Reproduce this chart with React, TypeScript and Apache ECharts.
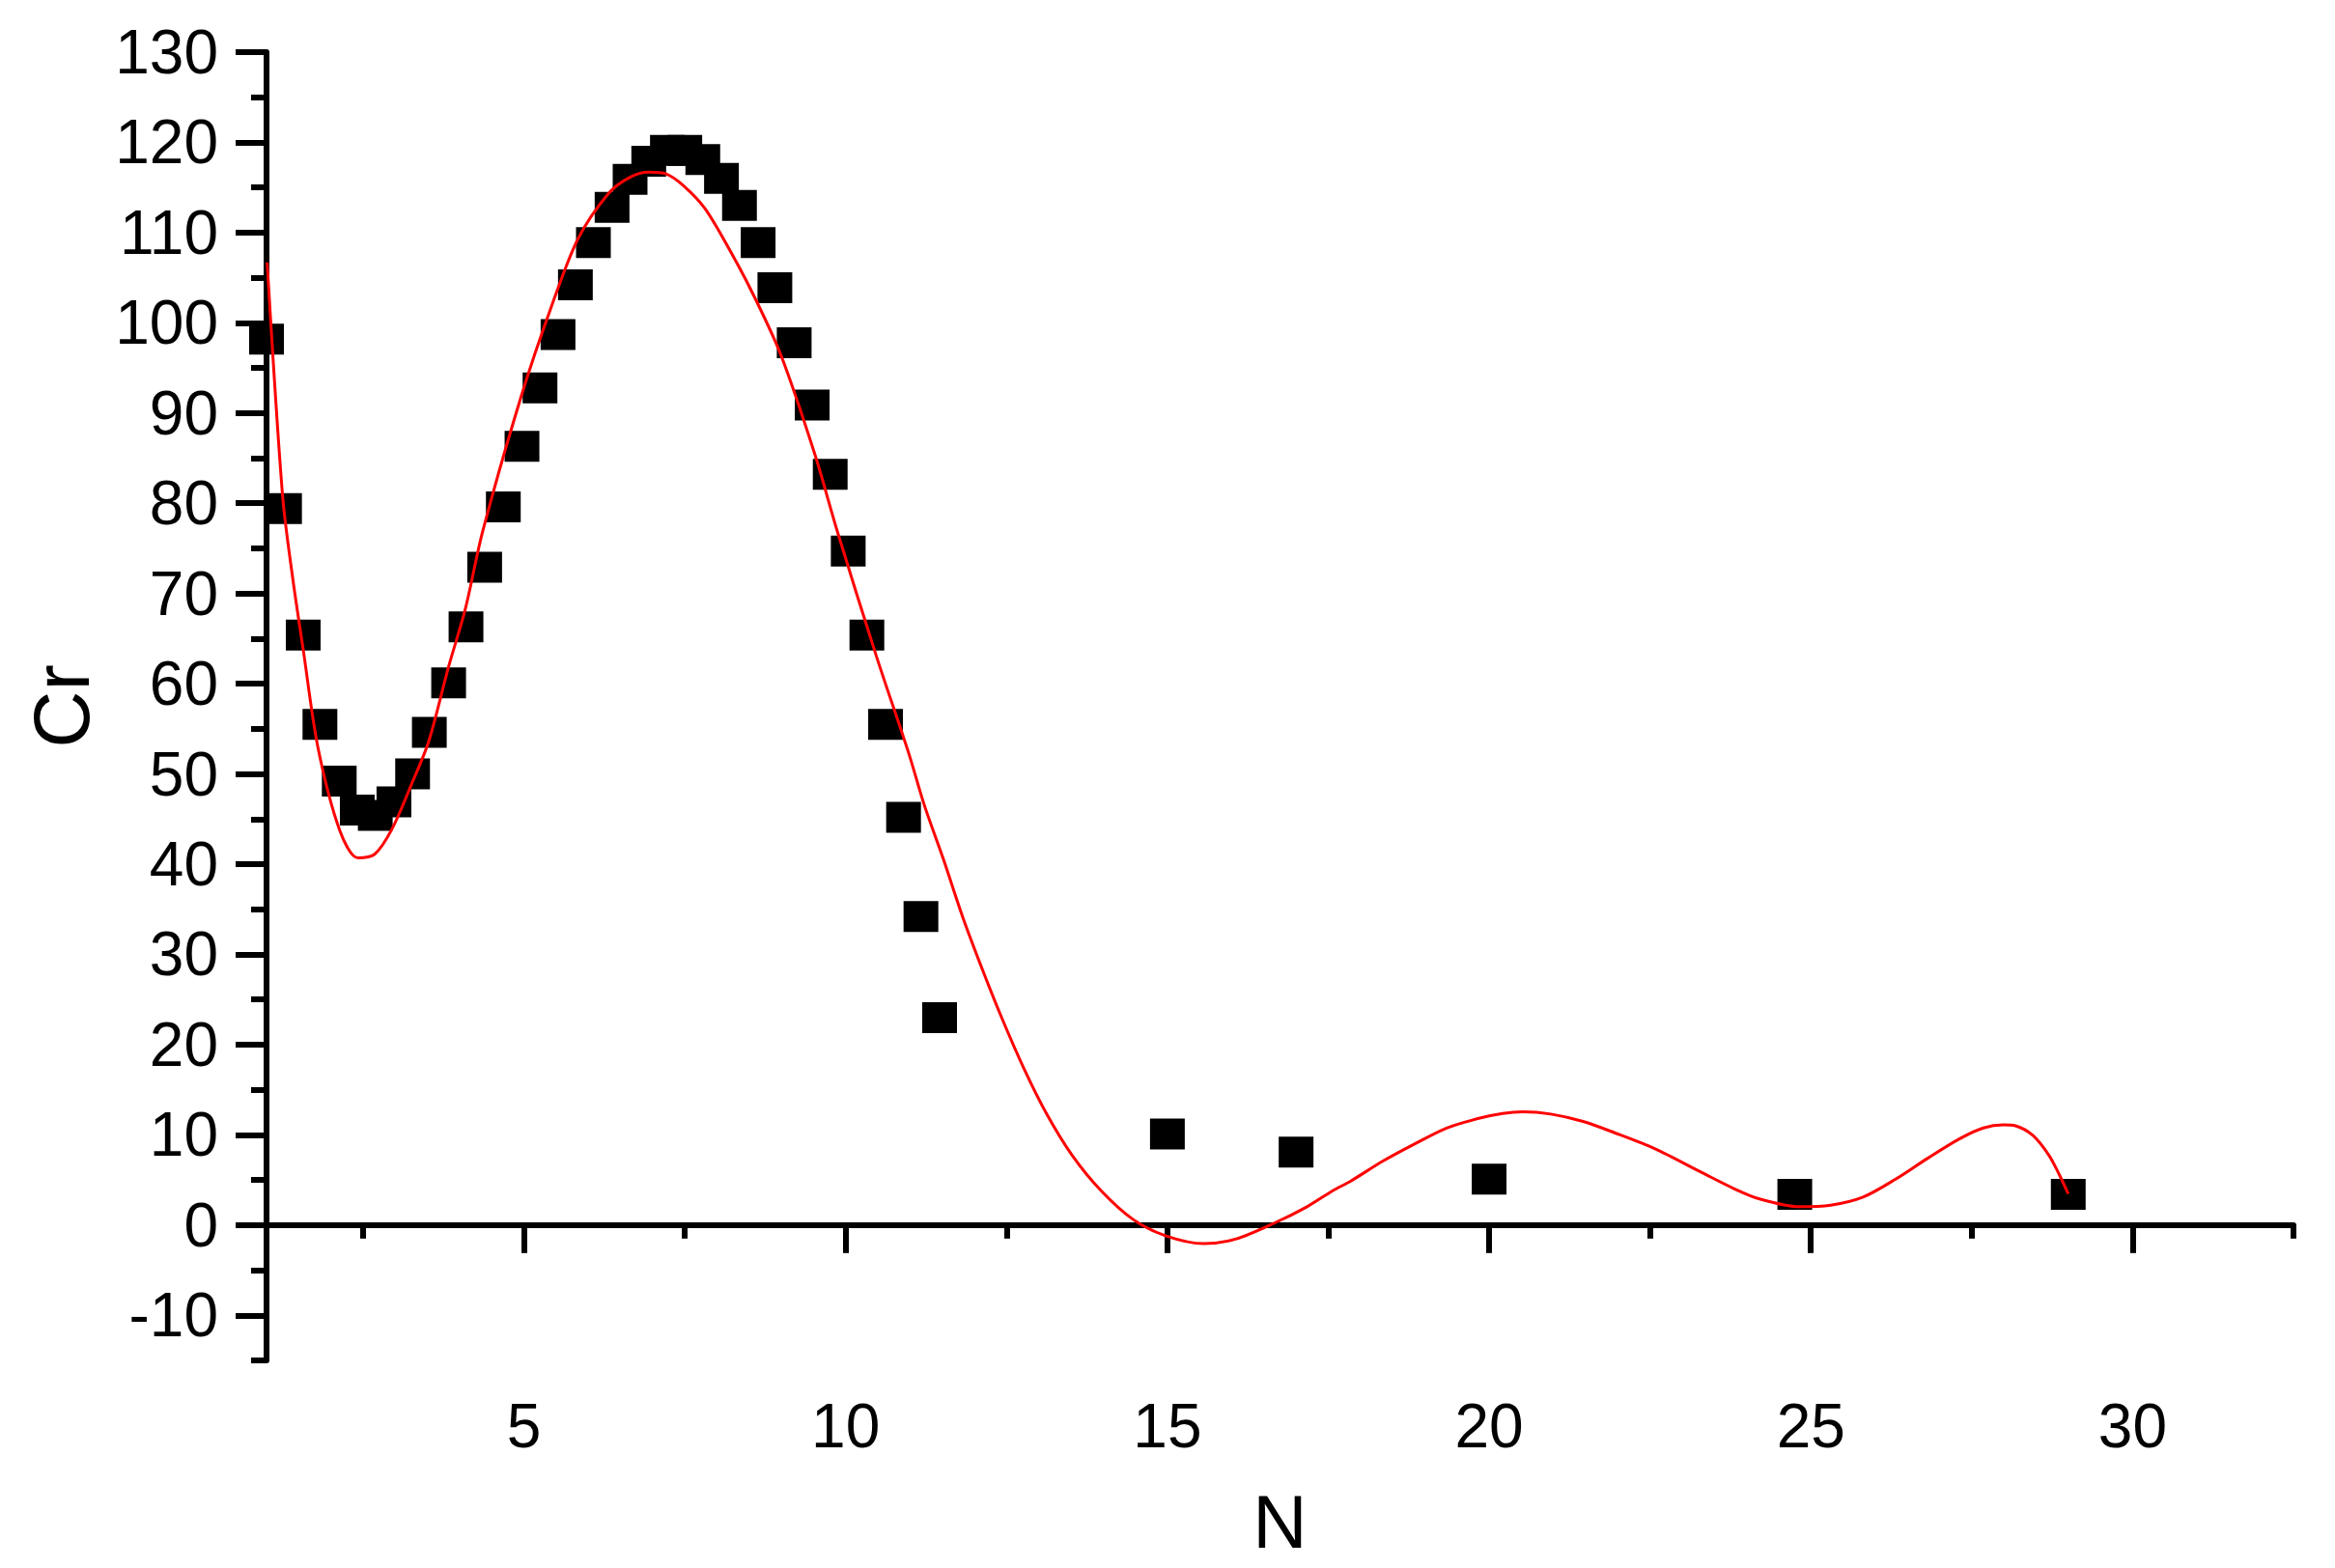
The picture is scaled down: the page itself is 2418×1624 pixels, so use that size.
import React, { useEffect, useRef } from "react";
import * as echarts from "echarts";

// Measured points (N, Cr)
const nValues = [
  1.0, 1.28, 1.57, 1.83, 2.13, 2.41, 2.69, 2.98, 3.27, 3.53, 3.83, 4.1, 4.39,
  4.68, 4.97, 5.25, 5.53, 5.8, 6.08, 6.37, 6.65, 6.94, 7.23, 7.5, 7.78, 8.07,
  8.35, 8.64, 8.9, 9.2, 9.48, 9.76, 10.04, 10.33, 10.62, 10.9, 11.17, 11.46,
  15.0, 17.0, 20.0, 24.75, 29.0,
];
const crValues = [
  98.2, 79.4, 65.4, 55.5, 49.2, 46.0, 45.4, 46.9, 50.0, 54.6, 60.1, 66.3, 72.9,
  79.6, 86.3, 92.8, 98.7, 104.2, 108.9, 112.8, 115.9, 117.9, 119.1, 119.1,
  118.1, 116.0, 113.0, 108.9, 103.9, 97.8, 90.9, 83.2, 74.7, 65.4, 55.5, 45.2,
  34.2, 23.0, 10.1, 8.1, 5.1, 3.4, 3.4,
];

// Fitted curve
const fitN = [
  1.01, 1.25, 1.41, 1.57, 1.8, 2.14, 2.42, 2.68, 2.95, 3.25, 3.52, 3.83, 4.09,
  4.36, 4.96, 5.43, 5.84, 6.31, 6.64, 6.94, 7.21, 7.48, 7.81, 8.18, 8.58, 8.99,
  9.52, 9.87, 10.48, 10.98, 11.22, 11.52, 11.82, 12.12, 12.42, 12.77, 13.12,
  13.52, 13.97, 14.47, 14.97, 15.57, 16.07, 16.67, 17.17, 17.57, 17.85, 18.35,
  18.84, 19.34, 19.84, 20.21, 20.52, 20.96, 21.46, 21.95, 22.58, 23.32, 23.82,
  24.19, 24.82, 25.31, 25.81, 26.31, 26.81, 27.3, 27.68, 27.99, 28.18, 28.45,
  28.7, 28.86, 29.0,
];
const fitCr = [
  106.7, 80.8, 71.55, 63.8, 52.9, 43.7, 40.7, 41.1, 43.9, 48.8, 53.6, 61.9,
  68.3, 76.9, 91.9, 101.85, 109.3, 114.3, 116.1, 116.7, 116.5, 115.2, 112.7,
  108.3, 102.9, 96.5, 85.45, 76.9, 63.0, 52.3, 46.6, 40.53, 34.12, 28.42,
  23.07, 17.36, 12.37, 7.73, 3.81, 0.61, -1.18, -2.06, -1.53, 0.25, 2.03, 3.81,
  4.88, 7.09, 8.98, 10.76, 11.83, 12.37, 12.55, 12.3, 11.48, 10.23, 8.45, 5.77,
  3.99, 2.92, 2.03, 2.21, 3.1, 5.06, 7.38, 9.52, 10.76, 11.12, 11.01, 9.94,
  7.73, 5.6, 3.46,
];

const xMajorTicks = [5, 10, 15, 20, 25, 30];
const xMinorTicks = [2.5, 7.5, 12.5, 17.5, 22.5, 27.5, 32.5];
const yMajorTicks = [-10, 0, 10, 20, 30, 40, 50, 60, 70, 80, 90, 100, 110, 120, 130];
const yMinorTicks = [-15, -5, 5, 15, 25, 35, 45, 55, 65, 75, 85, 95, 105, 115, 125];

const FONT = "'Liberation Sans', Arial, sans-serif";

export default function App() {
  const ref = useRef<HTMLDivElement>(null);

  useEffect(() => {
    if (!ref.current) return;
    const chart = echarts.init(ref.current, undefined, { renderer: "svg" });

    const scatterData = nValues.map((n, i) => [n, crValues[i]]);
    const fitData = fitN.map((n, i) => [n, fitCr[i]]);

    const axisLineStyle = { color: "#000", width: 6 };

    chart.setOption({
      animation: false,
      backgroundColor: "#fff",
      grid: { left: 276, top: 54, right: 43, bottom: 215, containLabel: false },
      xAxis: [
        {
          type: "value",
          min: 1,
          max: 32.5,
          position: "bottom",
          axisLine: { show: true, lineStyle: axisLineStyle },
          axisTick: {
            show: true,
            customValues: xMajorTicks,
            length: 29,
            lineStyle: { color: "#000", width: 6 },
          },
          axisLabel: {
            customValues: xMajorTicks,
            fontSize: 64,
            fontFamily: FONT,
            color: "#000",
            margin: 36,
          },
          splitLine: { show: false },
          name: "N",
          nameLocation: "middle",
          nameGap: 128,
          nameTextStyle: { fontSize: 78, fontFamily: FONT, color: "#000" },
        },
        {
          type: "value",
          min: 1,
          max: 32.5,
          position: "bottom",
          axisLine: { show: false },
          axisTick: {
            show: true,
            customValues: xMinorTicks,
            length: 14,
            lineStyle: { color: "#000", width: 6 },
          },
          axisLabel: { show: false },
          splitLine: { show: false },
        },
      ],
      yAxis: [
        {
          type: "value",
          min: -15,
          max: 130,
          position: "left",
          axisLine: { show: true, lineStyle: axisLineStyle },
          axisTick: {
            show: true,
            customValues: yMajorTicks,
            length: 32,
            lineStyle: { color: "#000", width: 6 },
          },
          axisLabel: {
            customValues: yMajorTicks,
            fontSize: 64,
            fontFamily: FONT,
            color: "#000",
            margin: 50,
            padding: [0, 0, 10, 0],
          },
          splitLine: { show: false },
          name: "Cr",
          nameLocation: "middle",
          nameGap: 172,
          nameTextStyle: { fontSize: 82, fontFamily: FONT, color: "#000" },
        },
        {
          type: "value",
          min: -15,
          max: 130,
          position: "left",
          axisLine: { show: false },
          axisTick: {
            show: true,
            customValues: yMinorTicks,
            length: 16,
            lineStyle: { color: "#000", width: 6 },
          },
          axisLabel: { show: false },
          splitLine: { show: false },
        },
      ],
      series: [
        {
          type: "scatter",
          xAxisIndex: 0,
          yAxisIndex: 0,
          data: scatterData,
          symbol: "rect",
          symbolSize: [36, 32],
          itemStyle: { color: "#000", opacity: 1 },
          z: 2,
        },
        {
          type: "line",
          xAxisIndex: 0,
          yAxisIndex: 0,
          data: fitData,
          showSymbol: false,
          symbol: "none",
          smooth: 0.3,
          lineStyle: { color: "#ff0000", width: 3 },
          z: 3,
        },
      ],
    });

    return () => {
      chart.dispose();
    };
  }, []);

  return (
    <div
      ref={ref}
      style={{
        position: "absolute",
        left: 0,
        top: 0,
        width: 2418,
        height: 1624,
        background: "#fff",
      }}
    />
  );
}
